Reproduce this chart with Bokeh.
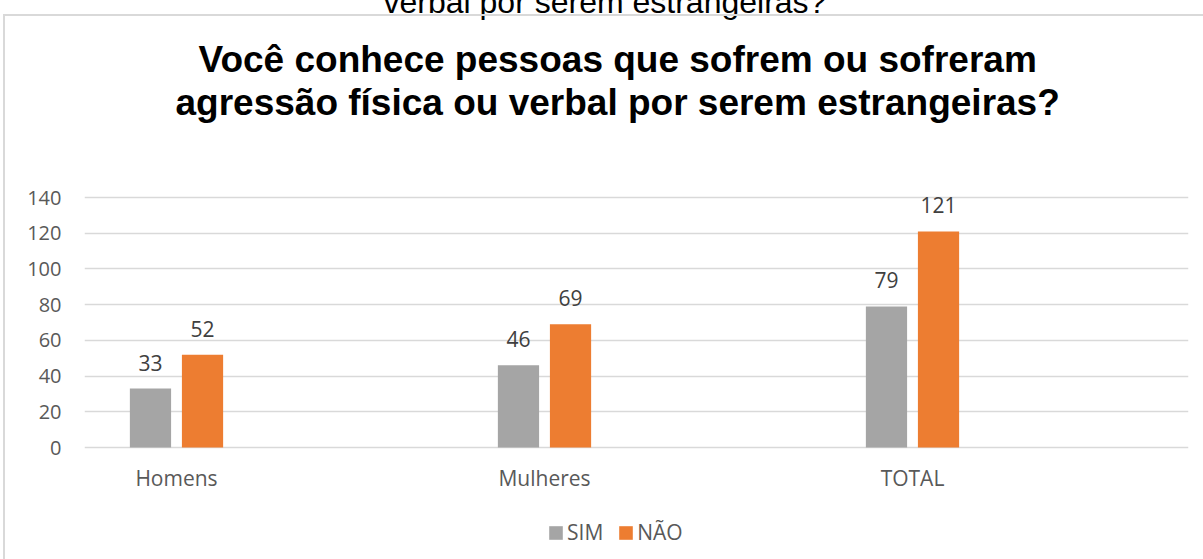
from bokeh.plotting import figure
from bokeh.models import (ColumnDataSource, FixedTicker, Legend, LegendItem, Title,
                          Range1d, InlineStyleSheet)
from bokeh.core.properties import value
from bokeh.transform import dodge
from bokeh.embed import file_html
from bokeh.resources import INLINE

# ---- data ----
categories = ["Homens", "Mulheres", "TOTAL"]
sim = [33, 46, 79]
nao = [52, 69, 121]
series_names = ["SIM", "NÃO"]
y_ticks = [0, 20, 40, 60, 80, 100, 120, 140]
title_line1 = "Você conhece pessoas que sofrem ou sofreram"
title_line2 = "agressão física ou verbal por serem estrangeiras?"
top_text = "verbal por serem estrangeiras?"

GRAY = "#a5a5a5"
ORANGE = "#ed7d31"
TXT = "#595959"
FONT = "Open Sans"

SHIFT = 48                  # canvas starts this far above the page top
FRAME_TOP = 170             # canvas px  -> page 122
CANVAS_H = 559 + SHIFT
ZERO_PAGE = 447             # page y of value 0
PX_PER_UNIT = 250 / 140.0
y_start = -(559 - ZERO_PAGE) / PX_PER_UNIT
y_end = (ZERO_PAGE - (FRAME_TOP - SHIFT)) / PX_PER_UNIT

pos = list(range(len(categories)))
src = ColumnDataSource(dict(x=pos, sim=sim, nao=nao, cat=categories, zero=[0] * len(pos),
                            sim_t=[str(v) for v in sim], nao_t=[str(v) for v in nao]))

box_css = InlineStyleSheet(css="""
:host { overflow: hidden; }
:host::after {
  content: ""; position: absolute; left: 3px; top: %dpx; right: -20px; bottom: -20px;
  border: 2px solid #d9d9d9; pointer-events: none;
}
""" % (14 + SHIFT))

p = figure(width=1203, height=CANVAS_H, output_backend="svg", toolbar_location=None,
           x_range=Range1d(-0.25, 2.75), y_range=Range1d(y_start, y_end),
           x_axis_location=None,
           min_border_left=84, min_border_right=15, min_border_top=FRAME_TOP,
           min_border_bottom=0, margin=(-SHIFT, 0, 0, 0), stylesheets=[box_css])
p.outline_line_color = None
p.background_fill_color = "white"
p.border_fill_color = "white"

w = 0.112
off = 0.0707
r1 = p.vbar(x=dodge("x", -off, range=p.x_range), top="sim", width=w, source=src,
            fill_color=GRAY, line_color=None)
r2 = p.vbar(x=dodge("x", off, range=p.x_range), top="nao", width=w, source=src,
            fill_color=ORANGE, line_color=None)

lbl = dict(text_font=value(FONT), text_font_size="21px", text_color="#404040",
           text_align="center", text_baseline="alphabetic", y_offset=-26)
p.text(x=dodge("x", -off, range=p.x_range), y="sim", text="sim_t", source=src, **lbl)
p.text(x=dodge("x", off, range=p.x_range), y="nao", text="nao_t", source=src, **lbl)

# category labels under the baseline
p.text(x="x", y="zero", text="cat", source=src, text_font=value(FONT),
       text_font_size="21px", text_color=TXT, text_align="center",
       text_baseline="alphabetic", y_offset=30)

# y axis
p.yaxis.ticker = FixedTicker(ticks=y_ticks)
p.yaxis.axis_line_color = None
p.yaxis.major_tick_line_color = None
p.yaxis.minor_tick_line_color = None
p.yaxis.major_label_text_font = FONT
p.yaxis.major_label_text_font_size = "20px"
p.yaxis.major_label_text_color = TXT
p.yaxis.major_label_standoff = 17

for g in p.grid:
    if g.dimension == 0:
        g.grid_line_color = None
    else:
        g.grid_line_color = "#d9d9d9"
        g.grid_line_width = 1.5

# legend (inside the frame, below the category labels)
legend = Legend(items=[LegendItem(label=series_names[0], renderers=[r1]),
                       LegendItem(label=series_names[1], renderers=[r2])],
                orientation="horizontal", location=(463, 13),
                padding=0, margin=0, spacing=14, label_standoff=3,
                glyph_width=17, glyph_height=17, label_height=17,
                border_line_color=None, background_fill_alpha=0,
                label_text_font=FONT, label_text_font_size="21px",
                label_text_color=TXT)
p.add_layout(legend, "center")

# titles (stacked upward from the frame)
p.title.text = ""
TF = "Liberation Sans"
p.add_layout(Title(text=title_line2, align="left", offset=91, standoff=0,
                   text_font=TF, text_font_style="bold",
                   text_font_size="37px", text_color="black"), "above")
p.add_layout(Title(text=title_line1, align="left", offset=114, standoff=0,
                   text_font=TF, text_font_style="bold",
                   text_font_size="37px", text_color="black"), "above")
p.add_layout(Title(text=top_text, align="left", offset=299, standoff=34,
                   text_font=TF, text_font_style="normal",
                   text_font_size="32px", text_color="black"), "above")

open("out.html", "w").write(file_html(p, INLINE))
